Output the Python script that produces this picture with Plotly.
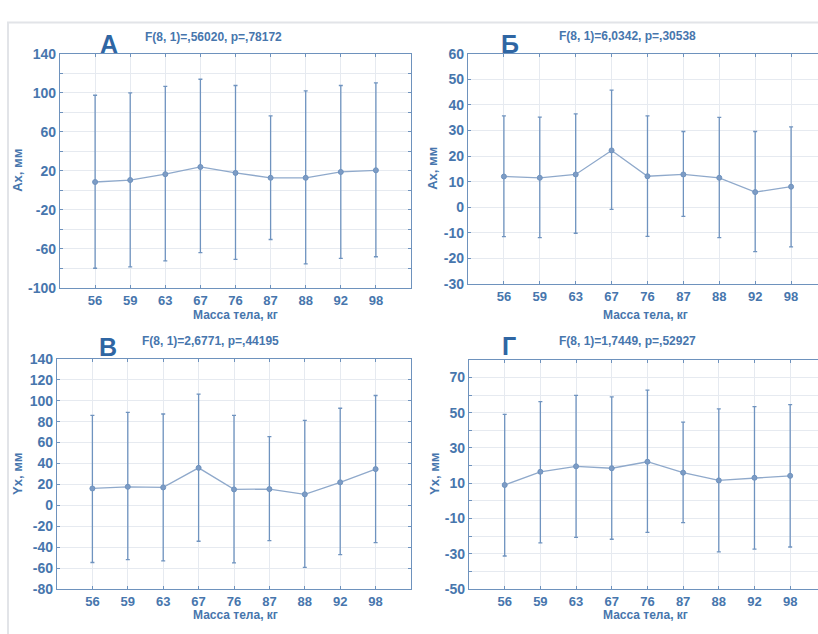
import plotly.graph_objects as go

W, H = 818, 634

categories = ["56", "59", "63", "67", "76", "87", "88", "92", "98"]

# Panel А
a_mean = [8.5, 10.5, 16.5, 23.9, 17.8, 12.8, 12.8, 18.8, 20.5]
a_upper = [97.5, 100, 106.5, 113.9, 107.5, 76.4, 102, 107.5, 110.2]
a_lower = [-80, -78.6, -72.5, -64, -70.9, -50.5, -75.6, -69.9, -68.2]
# Panel Б
b_mean = [12, 11.5, 12.8, 22.2, 12.1, 12.8, 11.5, 5.9, 8]
b_upper = [35.7, 35.2, 36.5, 45.8, 35.7, 29.6, 35.1, 29.6, 31.4]
b_lower = [-11.5, -11.9, -10.2, -0.9, -11.4, -3.6, -11.9, -17.4, -15.5]
# Panel В
v_mean = [16.1, 17.7, 17.1, 35.8, 15.2, 15.5, 10.5, 22, 34.6]
v_upper = [86, 88.8, 87.3, 106.3, 86, 65.7, 81.3, 92.8, 105]
v_lower = [-54.7, -51.9, -53.1, -34.4, -55, -33.8, -59.4, -47.2, -35.7]
# Panel Г
g_mean = [9, 16.5, 19.6, 18.5, 22.2, 16, 11.6, 13.1, 14.2]
g_upper = [49.1, 56.3, 59.9, 59, 62.8, 44.7, 52.2, 53.5, 54.6]
g_lower = [-31.3, -23.8, -20.7, -21.8, -17.9, -12.4, -29, -27.4, -26.2]

titles = ["F(8, 1)=,56020, p=,78172", "F(8, 1)=6,0342, p=,30538",
          "F(8, 1)=2,6771, p=,44195", "F(8, 1)=1,7449, p=,52927"]
letters = ["А", "Б", "В", "Г"]
ytitles = ["Ax, мм", "Ax, мм", "Yx, мм", "Yx, мм"]
xtitle = "Масса тела, кг"

FONT = "Liberation Sans, Arial, sans-serif"
TXT = "#4776ad"
LETTER = "#2f66a3"
AX = "#6e92bd"
GRID = "#e6eaf0"
ERR = "#6f93bf"
LINE = "#8fa9cb"

# pixel layout for panels: (left, right, top, bottom)
panels = [
    dict(l=60, r=411, t=47, b=287, yr=[-100, 140], ydt=20, ylab=40, ylab0=-100, xr=[-1, 9], mirror_y=True,
         title_x=213, title_y=30, let_x=109, let_y=37, yt_x=18, yt_y=167, xt_x=235, xt_y=315),
    dict(l=468, r=818, t=47, b=283, yr=[-30, 60], ydt=10, ylab=10, ylab0=-30, xr=[-1, 8.75], mirror_y=False,
         title_x=627, title_y=29, let_x=510, let_y=37, yt_x=433, yt_y=165, xt_x=645, xt_y=315),
    dict(l=57, r=411, t=360, b=596, yr=[-80, 140], ydt=20, ylab=20, ylab0=-80, xr=[-1, 9], mirror_y=True,
         title_x=210, title_y=342, let_x=108, let_y=348, yt_x=18, yt_y=478, xt_x=235, xt_y=623),
    dict(l=469, r=818, t=361, b=596, yr=[-50, 80], ydt=10, ylab=20, ylab0=-50, xr=[-1, 8.78], mirror_y=False,
         title_x=627, title_y=342, let_x=509, let_y=347, yt_x=435, yt_y=478, xt_x=645, xt_y=623),
]
series = [(a_mean, a_upper, a_lower), (b_mean, b_upper, b_lower),
          (v_mean, v_upper, v_lower), (g_mean, g_upper, g_lower)]

fig = go.Figure()
annotations = []
xs = list(range(len(categories)))

for i, (p, (m, up, lo)) in enumerate(zip(panels, series)):
    xa = "x" if i == 0 else f"x{i+1}"
    ya = "y" if i == 0 else f"y{i+1}"
    err_plus = [u - v for u, v in zip(up, m)]
    err_minus = [v - d for v, d in zip(m, lo)]
    fig.add_trace(go.Scatter(
        x=xs, y=m, xaxis=xa, yaxis=ya, mode="lines+markers",
        line=dict(color=LINE, width=1.3),
        marker=dict(symbol="circle", size=5, color="#7d9cc5", line=dict(color=ERR, width=1)),
        error_y=dict(type="data", symmetric=False, array=err_plus, arrayminus=err_minus,
                     color=ERR, thickness=1.3, width=2),
        showlegend=False, hoverinfo="skip"))

    tv = []
    tt = []
    v = p["yr"][0]
    while v <= p["yr"][1] + 1e-9:
        tv.append(v)
        tt.append(str(int(v)) if (round(v - p["ylab0"]) % p["ylab"] == 0) else "")
        v += p["ydt"]

    xkey = "xaxis" if i == 0 else f"xaxis{i+1}"
    ykey = "yaxis" if i == 0 else f"yaxis{i+1}"
    fig.update_layout(**{
        xkey: dict(domain=[p["l"] / W, min(p["r"] / W, 1.0)], range=p["xr"], anchor=ya,
                   tickmode="array", tickvals=xs, ticktext=categories,
                   showgrid=True, gridcolor=GRID, gridwidth=1, zeroline=False,
                   showline=True, linecolor=AX, linewidth=1.3, mirror="allticks",
                   ticks="inside", ticklen=3, tickcolor=AX,
                   tickfont=dict(family=FONT, size=13, color=TXT, weight="bold")),
        ykey: dict(domain=[1 - p["b"] / H, 1 - p["t"] / H], range=p["yr"], anchor=xa,
                   tickmode="array", tickvals=tv, ticktext=tt,
                   showgrid=True, gridcolor=GRID, gridwidth=1, zeroline=False,
                   showline=True, linecolor=AX, linewidth=1.3,
                   mirror="allticks" if p["mirror_y"] else False,
                   ticks="inside", ticklen=3, tickcolor=AX,
                   tickfont=dict(family=FONT, size=14, color=TXT, weight="bold")),
    })

    annotations.append(dict(x=p["title_x"] / W, y=1 - p["title_y"] / H, xref="paper", yref="paper",
                            text=titles[i], showarrow=False, xanchor="center", yanchor="middle",
                            font=dict(family=FONT, size=12, color=TXT, weight="bold")))
    annotations.append(dict(x=p["let_x"] / W, y=1 - p["let_y"] / H, xref="paper", yref="paper",
                            text=letters[i], showarrow=False, xanchor="center", yanchor="middle",
                            font=dict(family=FONT, size=25, color=LETTER, weight="bold")))
    annotations.append(dict(x=p["yt_x"] / W, y=1 - p["yt_y"] / H, xref="paper", yref="paper",
                            text=ytitles[i], showarrow=False, textangle=-90,
                            xanchor="center", yanchor="middle",
                            font=dict(family=FONT, size=13, color=TXT, weight="bold")))
    annotations.append(dict(x=p["xt_x"] / W, y=1 - p["xt_y"] / H, xref="paper", yref="paper",
                            text=xtitle, showarrow=False, xanchor="center", yanchor="middle",
                            font=dict(family=FONT, size=12, color=TXT, weight="bold")))

shapes = [dict(type="rect", xref="paper", yref="paper",
               x0=8 / W, x1=1.02, y0=-0.02, y1=1 - 15 / H,
               line=dict(color="#e2e4e8", width=2), layer="below")]

fig.update_layout(width=W, height=H, margin=dict(l=0, r=0, t=0, b=0),
                  paper_bgcolor="white", plot_bgcolor="white",
                  annotations=annotations, shapes=shapes)

fig.write_html("out.html", config={"displayModeBar": False},
               post_script="document.body.style.margin='0';document.body.style.overflow='hidden';")
